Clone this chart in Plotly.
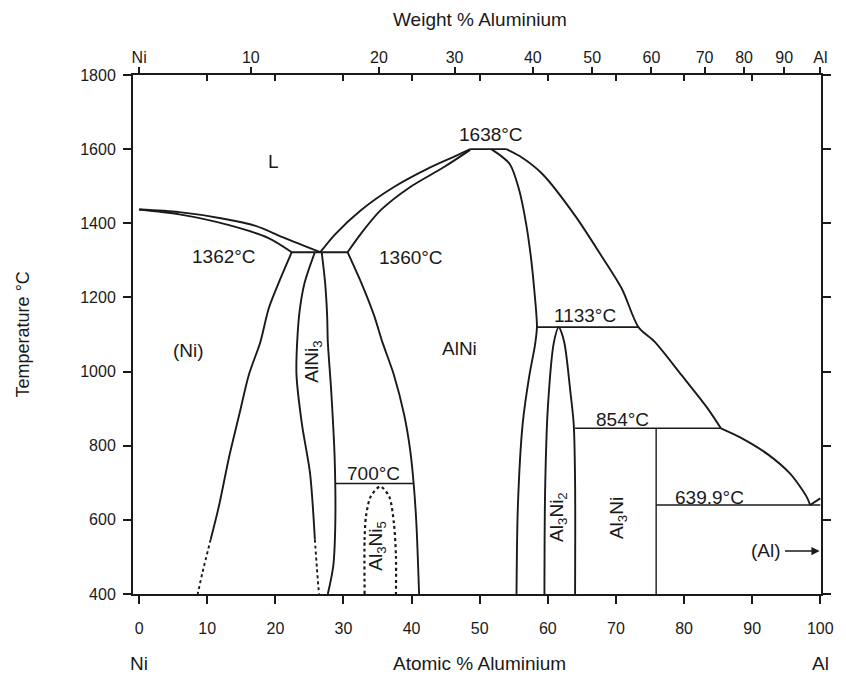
import plotly.graph_objects as go

# ---------------- data (at.% Al, temperature °C) ----------------
ni_liq_x = [0, 5.9, 12.2, 17.1, 21.4, 26.6]
ni_liq_T = [1437, 1430, 1413, 1393, 1360, 1322]
ni_sol_x = [0, 5.9, 13.2, 19.0, 22.4]
ni_sol_T = [1437, 1424, 1395, 1360, 1322]

ni_solvus_x = [22.4, 20.5, 19.0, 17.8, 16.1, 14.7, 13.2, 11.7, 10.5]
ni_solvus_T = [1322, 1240, 1169, 1080, 991, 884, 769, 636, 547]
ni_solvus_dot_x = [10.5, 9.3, 8.6]
ni_solvus_dot_T = [547, 458, 400]

alni3_left_x = [25.8, 24.3, 23.6, 23.2, 23.1, 23.9, 25.1, 25.8]
alni3_left_T = [1322, 1240, 1169, 1080, 991, 858, 724, 547]
alni3_left_dot_x = [25.8, 26.1, 26.4]
alni3_left_dot_T = [547, 470, 400]
alni3_right_x = [26.8, 27.3, 27.6, 27.7, 28.2, 28.7, 28.8, 28.5, 27.7]
alni3_right_T = [1322, 1240, 1151, 1080, 947, 769, 591, 476, 400]

eut1362_x = [22.4, 30.6]
eut1362_T = [1322, 1322]

alni_liq_left_x = [26.6, 28.7, 32.6, 37.4, 42.3, 46.5, 48.6]
alni_liq_left_T = [1322, 1369, 1436, 1498, 1547, 1582, 1600]
alni_sol_left_x = [30.6, 32.6, 35.5, 39.8, 44.7, 48.6]
alni_sol_left_T = [1322, 1373, 1436, 1498, 1551, 1598]
peak_x = [48.6, 53.9]
peak_T = [1600, 1600]

alni_left_x = [30.6, 32.6, 34.5, 35.7, 37.4, 38.9, 39.8, 40.3, 40.7, 41.1]
alni_left_T = [1322, 1240, 1151, 1080, 991, 884, 787, 698, 591, 400]
alni_right_x = [51.7, 54.4, 55.8, 56.8, 57.5, 58.0, 58.4, 58.1, 57.3, 56.3, 55.6, 55.4]
alni_right_T = [1600, 1560, 1489, 1400, 1311, 1222, 1120, 1070, 991, 858, 636, 400]

liq_right_x = [53.9, 55.8, 59.2, 64.1, 67.9, 70.9, 73.3, 75.7, 79.6, 83.4, 85.4]
liq_right_T = [1600, 1582, 1533, 1418, 1311, 1222, 1120, 1080, 991, 902, 847]
liq_al_x = [85.4, 88.3, 92.2, 95.6, 98.0, 98.5]
liq_al_T = [847, 822, 778, 724, 662, 640]
al_melt_x = [98.5, 100]
al_melt_T = [640, 658]

line1133_x = [58.4, 73.3]
line1133_T = [1120, 1120]
al3ni2_x = [59.5, 59.6, 60.0, 60.9, 61.6, 62.4, 63.3, 63.8, 64.0, 64.0]
al3ni2_T = [400, 680, 902, 1080, 1120, 1080, 947, 858, 700, 400]
line854_x = [64.0, 85.4]
line854_T = [847, 847]
al3ni_x = [75.9, 75.9]
al3ni_T = [847, 400]
line640_x = [75.9, 100]
line640_T = [640, 640]

line700_x = [28.9, 40.3]
line700_T = [698, 698]
al3ni5_x = [33.1, 33.1, 33.3, 34.0, 35.4, 36.7, 37.4, 37.7, 37.7]
al3ni5_T = [400, 547, 609, 663, 690, 663, 591, 502, 400]

# labels: text, at.%, T, angle
labels = [
    ("L", 19.7, 1567, 0),
    ("1638°C", 51.7, 1640, 0),
    ("1362°C", 12.5, 1310, 0),
    ("1360°C", 39.9, 1309, 0),
    ("(Ni)", 7.3, 1058, 0),
    ("AlNi<sub>3</sub>", 25.4, 1027, -90),
    ("AlNi", 47.0, 1061, 0),
    ("700°C", 34.4, 725, 0),
    ("Al<sub>3</sub>Ni<sub>5</sub>", 35.0, 529, -90),
    ("1133°C", 65.4, 1152, 0),
    ("854°C", 71.0, 872, 0),
    ("639.9°C", 83.7, 661, 0),
    ("Al<sub>3</sub>Ni<sub>2</sub>", 61.4, 609, -90),
    ("Al<sub>3</sub>Ni", 70.4, 604, -90),
    ("(Al)", 92.0, 518, 0),
]
al_arrow = (94.6, 99.9, 516)

# axes ticks
temp_ticks = [400, 600, 800, 1000, 1200, 1400, 1600, 1800]
at_ticks = [0, 10, 20, 30, 40, 50, 60, 70, 80, 90, 100]
wt_tick_pos = [0, 16.4, 35.2, 46.3, 57.8, 66.5, 75.2, 83.0, 88.8, 94.7, 100]
wt_tick_text = ["Ni", "10", "20", "30", "40", "50", "60", "70", "80", "90", "Al"]

FONT = "Liberation Sans, Arial, sans-serif"
INK = "#1a1a1a"
LW = 1.9
LABEL_SIZE = 19
TICK_SIZE = 16

fig = go.Figure()

def add(xs, ys, dash="solid", shape="spline", width=LW):
    fig.add_trace(go.Scatter(x=xs, y=ys, mode="lines", hoverinfo="skip",
                             line=dict(color=INK, width=width, dash=dash, shape=shape,
                                       smoothing=0.8 if shape == "spline" else None),
                             showlegend=False))

add(ni_liq_x, ni_liq_T)
add(ni_sol_x, ni_sol_T)
add(ni_solvus_x, ni_solvus_T)
add(ni_solvus_dot_x, ni_solvus_dot_T, dash="dot")
add(alni3_left_x, alni3_left_T)
add(alni3_left_dot_x, alni3_left_dot_T, dash="dot")
add(alni3_right_x, alni3_right_T)
add(eut1362_x, eut1362_T, shape="linear")
add(alni_liq_left_x, alni_liq_left_T)
add(alni_sol_left_x, alni_sol_left_T)
add(peak_x, peak_T, shape="linear")
add(alni_left_x, alni_left_T)
add(alni_right_x, alni_right_T)
add(liq_right_x, liq_right_T)
add(liq_al_x, liq_al_T)
add(al_melt_x, al_melt_T, shape="linear")
add(line1133_x, line1133_T, shape="linear")
add(al3ni2_x, al3ni2_T)
add(line854_x, line854_T, shape="linear", width=1.4)
add(al3ni_x, al3ni_T, shape="linear", width=1.4)
add(line640_x, line640_T, shape="linear", width=1.4)
add(line700_x, line700_T, shape="linear", width=1.4)
add(al3ni5_x, al3ni5_T, dash="dot", width=2.2)

# invisible traces to attach top axes
fig.add_trace(go.Scatter(x=[0, 100], y=[400, 400], xaxis="x2", mode="lines",
                         line=dict(width=0), hoverinfo="skip", showlegend=False))
fig.add_trace(go.Scatter(x=[0, 100], y=[400, 400], xaxis="x3", mode="lines",
                         line=dict(width=0), hoverinfo="skip", showlegend=False))

for text, x, t, ang in labels:
    fig.add_annotation(x=x, y=t, text=text, showarrow=False, textangle=ang,
                       font=dict(family=FONT, size=LABEL_SIZE, color=INK))

fig.add_annotation(x=al_arrow[1], y=al_arrow[2], ax=al_arrow[0], ay=al_arrow[2],
                   axref="x", ayref="y", xref="x", yref="y", text="",
                   showarrow=True, arrowhead=2, arrowsize=1.1, arrowwidth=1.5,
                   arrowcolor=INK)

# axis side texts
def side_text(text, x, y, xref="x", angle=0, size=LABEL_SIZE):
    fig.add_annotation(x=x, y=y, xref=xref, yref="paper", text=text, showarrow=False,
                       xanchor="center", yanchor="middle", textangle=angle,
                       font=dict(family=FONT, size=size, color=INK))

side_text("Ni", 0, -0.133)
side_text("Atomic % Aluminium", 50, -0.133)
side_text("Al", 100, -0.133)
side_text("Weight % Aluminium", 50, 1.106)
side_text("Temperature °C", -0.16, 0.5, xref="paper", angle=-90, size=18)

XR = [-0.9, 100.1]
tickfont = dict(family=FONT, size=TICK_SIZE, color=INK)
fig.update_layout(
    width=846, height=675,
    margin=dict(l=133, r=19, t=75, b=81),
    paper_bgcolor="white", plot_bgcolor="white",
    font=dict(family=FONT, size=15, color=INK),
    xaxis=dict(range=XR, tickvals=at_ticks, ticks="outside", ticklen=8, tickwidth=1.5,
               tickcolor=INK, showline=True, linecolor=INK, linewidth=2, showgrid=False,
               zeroline=False, ticklabelstandoff=11, mirror=False, tickfont=tickfont),
    xaxis2=dict(range=XR, overlaying="x", side="top", tickvals=wt_tick_pos,
                ticktext=wt_tick_text, ticks="outside", ticklen=6, tickwidth=1.5,
                tickcolor=INK, showline=True, linecolor=INK, linewidth=2,
                showgrid=False, zeroline=False, ticklabelstandoff=-2, tickfont=tickfont),
    xaxis3=dict(range=XR, overlaying="x", side="top", tickvals=at_ticks[1:-1],
                showticklabels=False, ticks="inside", ticklen=6, tickwidth=1.5,
                tickcolor=INK, showline=False, showgrid=False, zeroline=False),
    yaxis=dict(range=[400, 1800], tickvals=temp_ticks, ticks="outside", ticklen=8,
               tickwidth=1.5, tickcolor=INK, showline=True, linecolor=INK, linewidth=2,
               mirror="ticks", showgrid=False, zeroline=False, ticklabelstandoff=4,
               tickfont=tickfont),
)

fig.write_html("out.html")
